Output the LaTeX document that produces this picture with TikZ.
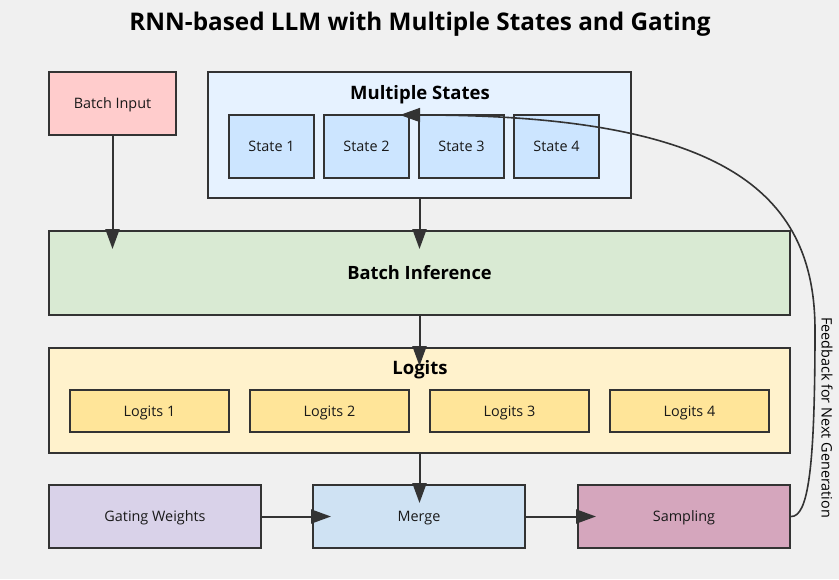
\documentclass[tikz,border=0pt]{standalone}
\usepackage{fontspec}
\setmainfont{Open Sans}
\usetikzlibrary{arrows.meta,calc}
\definecolor{bgc}{HTML}{F0F0F0}
\definecolor{strk}{HTML}{333333}
\definecolor{cinput}{HTML}{FFCCCC}
\definecolor{cms}{HTML}{E6F2FF}
\definecolor{cstate}{HTML}{CCE5FF}
\definecolor{cinf}{HTML}{D9EAD3}
\definecolor{clog}{HTML}{FFF2CC}
\definecolor{clogi}{HTML}{FFE599}
\definecolor{cgate}{HTML}{D9D2E9}
\definecolor{cmerge}{HTML}{CFE2F3}
\definecolor{csamp}{HTML}{D5A6BD}
\tikzset{
  box/.style={draw=strk, line width=2pt, rectangle, inner sep=0pt, font=\fontsize{14.4}{16}\selectfont, text=black!90, text height=10.3pt, text depth=0pt},
  arr/.style={draw=strk, line width=2pt, -{Triangle[length=20pt,width=14pt]}, shorten >=-19pt},
  grptitle/.style={font=\fontsize{18.5}{20}\selectfont\bfseries, text=black, inner sep=0pt, text height=13.2pt, text depth=0pt},
}
\begin{document}
\begin{tikzpicture}[x=1pt,y=-1pt]
\fill[bgc] (0,0) rectangle (839,579);
\useasboundingbox (0,0) rectangle (839,579);
\node[font=\fontsize{24.3}{26}\selectfont\bfseries, inner sep=0pt, text height=17.4pt, text depth=0pt] (title) at (420,21.5) {RNN-based LLM with Multiple States and Gating};
% boxes
\node[box, fill=cinput, minimum width=127pt, minimum height=63pt] (bi) at (112.5,103.5) {Batch Input};
\node[box, fill=cms, minimum width=423pt, minimum height=126pt] (ms) at (419.5,135) {};
\node[grptitle] (mst) at (420,93) {Multiple States};
\node[box, fill=cstate, minimum width=85pt, minimum height=63pt] (s1) at (271.5,146.5) {State 1};
\node[box, fill=cstate, minimum width=85pt, minimum height=63pt] (s2) at (366.5,146.5) {State 2};
\node[box, fill=cstate, minimum width=85pt, minimum height=63pt] (s3) at (461.5,146.5) {State 3};
\node[box, fill=cstate, minimum width=85pt, minimum height=63pt] (s4) at (556.5,146.5) {State 4};
\node[box, fill=cinf, minimum width=741pt, minimum height=84pt, font=\fontsize{18.3}{20}\selectfont\bfseries, text=black, text height=13.1pt] (binf) at (419.5,273) {Batch Inference};
\node[box, fill=clog, minimum width=741pt, minimum height=105pt] (lg) at (419.5,400.5) {};
\node[grptitle] (lgt) at (420,367.5) {Logits};
\node[box, fill=clogi, minimum width=159pt, minimum height=42pt] (l1) at (149.5,411) {Logits 1};
\node[box, fill=clogi, minimum width=159pt, minimum height=42pt] (l2) at (329.5,411) {Logits 2};
\node[box, fill=clogi, minimum width=159pt, minimum height=42pt] (l3) at (509.5,411) {Logits 3};
\node[box, fill=clogi, minimum width=159pt, minimum height=42pt] (l4) at (689.5,411) {Logits 4};
\node[box, fill=cgate, minimum width=212pt, minimum height=63pt] (gw) at (155,516.5) {Gating Weights};
\node[box, fill=cmerge, minimum width=212pt, minimum height=63pt] (mg) at (419,516.5) {Merge};
\node[box, fill=csamp, minimum width=212pt, minimum height=63pt] (sp) at (684,516.5) {Sampling};
% connectors
\draw[arr] (bi.south) -- (bi.south |- binf.north);
\draw[arr] (ms.south) -- (ms.south |- binf.north);
\draw[arr] (binf.south) -- (binf.south |- lg.north);
\draw[arr] (lg.south) -- (lg.south |- mg.north);
\draw[arr] (gw.east) -- (mg.west);
\draw[arr] (mg.east) -- (sp.west);
\coordinate (fbmid) at (815,330);
\coordinate (fbend) at (400,115);
\draw[draw=strk, line width=1.6pt, -{Triangle[length=20pt,width=14pt]}]
  (sp.east) .. controls (808,517) and (815,470) .. (fbmid)
  .. controls (815,190) and (720,115) .. (fbend);
\node[rotate=-90, font=\fontsize{14.4}{16}\selectfont, inner sep=0pt] (fbl) at (827,417.5) {Feedback for Next Generation};
\end{tikzpicture}
\end{document}
